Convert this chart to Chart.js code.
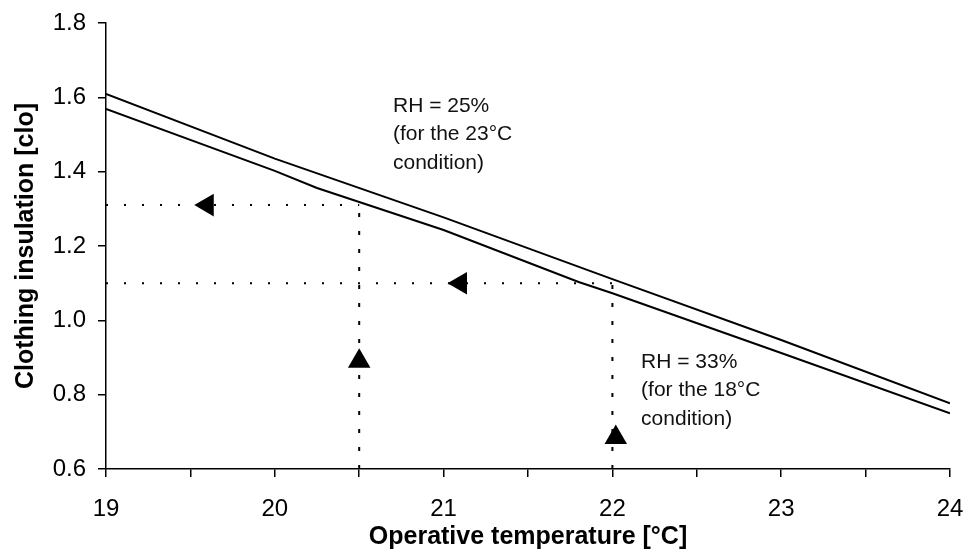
<!DOCTYPE html>
<html>
<head>
<meta charset="utf-8">
<script src="https://cdn.jsdelivr.net/npm/chart.js@4"></script>
<style>
  body { margin: 0; background: #fff; }
  #wrap { width: 967px; height: 552px; }
</style>
</head>
<body>
<div id="wrap"><canvas id="cloChart" width="967" height="552"></canvas></div>
<script>
const upperTemp = [19, 20, 21, 22, 23, 24];
const upperClo = [1.609, 1.435, 1.277, 1.111, 0.947, 0.777];
const lowerTemp = [19, 20, 20.25, 21, 21.8, 22, 23, 24];
const lowerClo = [1.569, 1.402, 1.356, 1.243, 1.103, 1.073, 0.912, 0.750];

// dotted guide lines: temperature and clo level
const guideTemp = [20.5, 22];
const guideClo = [1.31, 1.10];

// arrow markers
const leftArrowTemp = [19.6, 21.1];
const leftArrowClo = [1.31, 1.10];
const upArrowTemp = [20.5, 22.02];
const upArrowClo = [0.89, 0.685];

const xTicks = [19, 20, 21, 22, 23, 24];
const yTicks = [0.6, 0.8, 1.0, 1.2, 1.4, 1.6, 1.8];

const note25 = ['RH = 25%', '(for the 23°C', 'condition)'];
const note33 = ['RH = 33%', '(for the 18°C', 'condition)'];

const pts = (xs, ys) => xs.map((x, i) => ({ x: x, y: ys[i] }));
const FONT = "'Liberation Sans', Arial, sans-serif";

const datasets = [
    { data: pts(upperTemp, upperClo), borderColor: '#000', borderWidth: 2, pointRadius: 0, showLine: true, tension: 0 },
    { data: pts(lowerTemp, lowerClo), borderColor: '#000', borderWidth: 2, pointRadius: 0, showLine: true, tension: 0 }
];
guideTemp.forEach((t, i) => {
    datasets.push({
        data: [{ x: xTicks[0], y: guideClo[i] }, { x: t, y: guideClo[i] }],
        borderColor: '#000', borderWidth: 2, borderDash: [2, 16], pointRadius: 0, showLine: true
    });
    datasets.push({
        data: [{ x: t, y: yTicks[0] }, { x: t, y: guideClo[i] }],
        borderColor: '#000', borderWidth: 2, borderDash: [4, 14], pointRadius: 0, showLine: true
    });
});
datasets.push({
    data: pts(leftArrowTemp, leftArrowClo), pointStyle: 'triangle', rotation: -90,
    pointRadius: 13, backgroundColor: '#000', borderColor: '#000', borderWidth: 0, showLine: false
});
datasets.push({
    data: pts(upArrowTemp, upArrowClo), pointStyle: 'triangle', rotation: 0,
    pointRadius: 13, backgroundColor: '#000', borderColor: '#000', borderWidth: 0, showLine: false
});

const notesPlugin = {
    id: 'notes',
    afterDatasetsDraw(chart) {
        const { ctx, scales: { x, y } } = chart;
        ctx.save();
        ctx.fillStyle = '#111';
        ctx.font = '21px ' + FONT;
        ctx.textBaseline = 'middle';
        ctx.textAlign = 'left';
        const put = (lines, tx, cy) => {
            const px = x.getPixelForValue(tx), py = y.getPixelForValue(cy);
            lines.forEach((s, i) => ctx.fillText(s, px, py + i * 28.5));
        };
        put(note25, 20.70, 1.577);
        put(note33, 22.17, 0.888);
        ctx.restore();
    }
};

const ctx = document.getElementById('cloChart').getContext('2d');
const cloChart = new Chart(ctx, {
    type: 'scatter',
    data: { datasets: datasets },
    options: {
        responsive: false,
        animation: false,
        devicePixelRatio: 1,
        layout: { padding: { left: 0, right: 17, top: 23, bottom: 0 } },
        plugins: { legend: { display: false }, tooltip: { enabled: false } },
        scales: {
            x: {
                type: 'linear',
                min: xTicks[0],
                max: xTicks[xTicks.length - 1],
                afterFit: s => { s.height = 83; s.paddingLeft = 0; s.paddingRight = 0; },
                ticks: {
                    stepSize: 0.5,
                    color: '#000',
                    font: { family: FONT, size: 24 },
                    padding: 18,
                    maxRotation: 0,
                    autoSkip: false,
                    callback: v => xTicks.includes(v) ? String(v) : ''
                },
                grid: { drawOnChartArea: false, drawTicks: true, tickLength: 8, color: '#000', lineWidth: 1.5 },
                border: { display: true, color: '#000', width: 1.5 },
                title: {
                    display: true,
                    text: 'Operative temperature [°C]',
                    color: '#000',
                    font: { family: FONT, size: 25, weight: 'bold' },
                    padding: { top: 0, bottom: 0 }
                }
            },
            y: {
                type: 'linear',
                min: yTicks[0],
                max: yTicks[yTicks.length - 1],
                afterFit: s => { s.width = 106; s.paddingTop = 0; s.paddingBottom = 0; },
                ticks: {
                    stepSize: 0.2,
                    color: '#000',
                    font: { family: FONT, size: 24 },
                    padding: 12,
                    callback: v => v.toFixed(1)
                },
                grid: { drawOnChartArea: false, drawTicks: true, tickLength: 8, color: '#000', lineWidth: 1.5 },
                border: { display: true, color: '#000', width: 1.5 },
                title: {
                    display: true,
                    text: 'Clothing insulation [clo]',
                    color: '#000',
                    font: { family: FONT, size: 25, weight: 'bold' },
                    padding: { top: 11, bottom: 0 }
                }
            }
        }
    },
    plugins: [notesPlugin]
});
</script>
</body>
</html>
